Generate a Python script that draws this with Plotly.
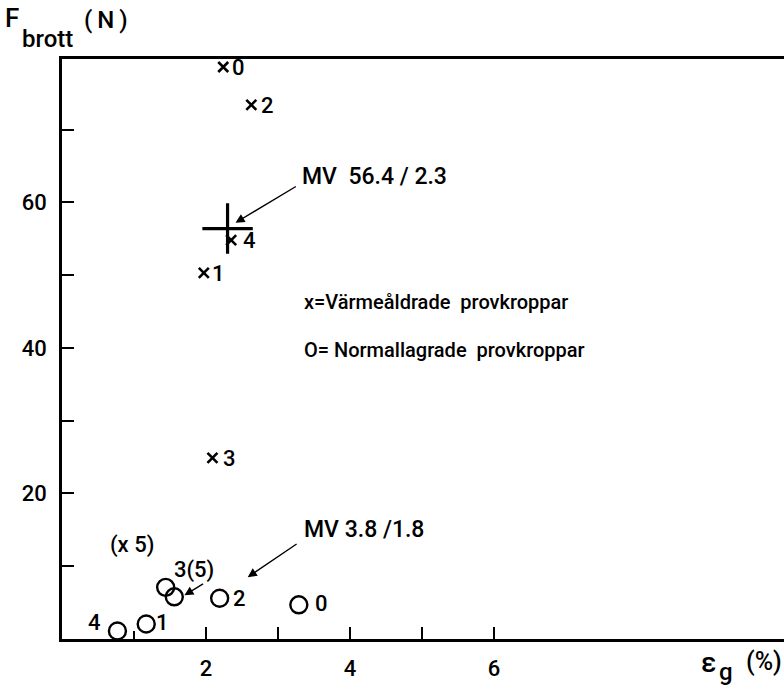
import plotly.graph_objects as go

# Värmeåldrade provkroppar (x markers)
heat_ids = ["0", "2", "4", "1", "3"]
heat_eps = [2.24, 2.63, 2.35, 1.97, 2.09]
heat_F = [78.6, 73.4, 54.8, 50.3, 24.9]

# Normallagrade provkroppar (circles)
norm_ids = ["4", "1", "3", "5", "2", "0"]
norm_eps = [0.77, 1.17, 1.44, 1.56, 2.19, 3.29]
norm_F = [1.1, 2.06, 7.1, 5.8, 5.6, 4.7]

# Mean value of heat aged specimens
mv_eps = [2.3]
mv_F = [56.4]

x_tickvals = [2, 3, 4, 5, 6]
x_ticktext = ["2", "", "4", "", "6"]
y_tickvals = [10, 20, 30, 40, 50, 60, 70]
y_ticktext = ["", "20", "", "40", "", "60", ""]

FONT = "Roboto"
WEIGHT = 500
W, H = 784, 688
L, R, T, B = 62, 0, 59, 49
PW, PH = W - L - R, H - T - B


def px(xp):
    return (xp - L) / PW


def py(yp):
    return (H - B - yp) / PH


fig = go.Figure()
fig.add_trace(go.Scatter(x=heat_eps, y=heat_F, mode="markers",
                         marker=dict(symbol="x-thin-open", size=10, color="black",
                                     line=dict(color="black", width=2.6)),
                         showlegend=False, hoverinfo="skip"))
fig.add_trace(go.Scatter(x=norm_eps, y=norm_F, mode="markers",
                         marker=dict(symbol="circle-open", size=17, color="black",
                                     line=dict(color="black", width=2.4)),
                         showlegend=False, cliponaxis=False, hoverinfo="skip"))
fig.add_trace(go.Scatter(x=mv_eps, y=mv_F, mode="markers",
                         marker=dict(symbol="cross-thin-open", size=36, color="black",
                                     line=dict(color="black", width=3.2)),
                         showlegend=False, hoverinfo="skip"))

ann = []


def txt(x, y, t, size=22, xanchor="center"):
    ann.append(dict(x=x, y=y, xref="x", yref="y", text=t, showarrow=False,
                    font=dict(family=FONT, size=size, color="black", weight=WEIGHT),
                    xanchor=xanchor, yanchor="middle"))


# point labels
heat_label_dx = [0.21, 0.22, 0.26, 0.2, 0.23]
for i, lab in enumerate(heat_ids):
    txt(heat_eps[i] + heat_label_dx[i], heat_F[i] - 0.1, lab)
txt(0.45, 2.2, "4")
txt(1.40, 2.3, "1")
txt(1.84, 9.5, "3(5)")
txt(2.47, 5.6, "2")
txt(3.60, 4.9, "0")
txt(0.97, 12.9, "(x 5)")

txt(3.30, 63.6, "MV  56.4 / 2.3", size=23, xanchor="left")
txt(3.34, 15.0, "MV 3.8 /1.8", size=23, xanchor="left")
txt(3.34, 46.3, "x=Värmeåldrade  provkroppar", size=20, xanchor="left")
txt(3.34, 39.7, "O= Normallagrade  provkroppar", size=20, xanchor="left")


def arrow(x, y, ax, ay):
    ann.append(dict(x=x, y=y, ax=ax, ay=ay, xref="x", yref="y", axref="x", ayref="y",
                    text="", showarrow=True, arrowhead=2, arrowsize=1.3, arrowwidth=1.4,
                    arrowcolor="black"))


arrow(2.41, 57.2, 3.27, 62.3)
arrow(2.58, 8.5, 3.28, 13.2)
arrow(1.70, 6.0, 1.98, 7.7)


def ptxt(xp, yp, t, size, xanchor="left"):
    ann.append(dict(x=px(xp), y=py(yp), xref="paper", yref="paper", text=t, showarrow=False,
                    xanchor=xanchor, yanchor="middle",
                    font=dict(family=FONT, size=size, color="black", weight=WEIGHT)))


# axis titles
ptxt(3, 18, "F", 26)
ptxt(20, 39, "brott", 24)
ptxt(82, 20, "(\u2009N\u2009)", 24)
ptxt(699, 662, "ε", 28)
ptxt(717, 672, "g", 24)
ptxt(744, 661, "(%)", 25)

fig.update_layout(
    width=W, height=H,
    margin=dict(l=L, r=R, t=T, b=B),
    paper_bgcolor="white", plot_bgcolor="white",
    annotations=ann,
    font=dict(family=FONT, size=22, color="black", weight=WEIGHT),
)
fig.update_xaxes(range=[0, 10.03], showgrid=False, zeroline=False,
                 showline=True, linecolor="black", linewidth=2.6, mirror=True,
                 ticks="inside", ticklen=12, tickwidth=1.6, tickcolor="black",
                 tickvals=x_tickvals, ticktext=x_ticktext, ticklabelstandoff=8,
                 tickfont=dict(family=FONT, size=22, color="black", weight=WEIGHT),
                 minor=dict(tickvals=[1], ticks="inside", ticklen=8, tickwidth=1.6, tickcolor="black"))
fig.update_yaxes(range=[0, 79.7], showgrid=False, zeroline=False,
                 showline=True, linecolor="black", linewidth=2.6, mirror=False,
                 ticks="inside", ticklen=12, tickwidth=1.6, tickcolor="black",
                 tickvals=y_tickvals, ticktext=y_ticktext, ticklabelstandoff=8,
                 tickfont=dict(family=FONT, size=22, color="black", weight=WEIGHT))

fig.write_html("out.html", config={"displayModeBar": False},
               post_script="document.body.style.margin='0';document.body.style.overflow='hidden';")
